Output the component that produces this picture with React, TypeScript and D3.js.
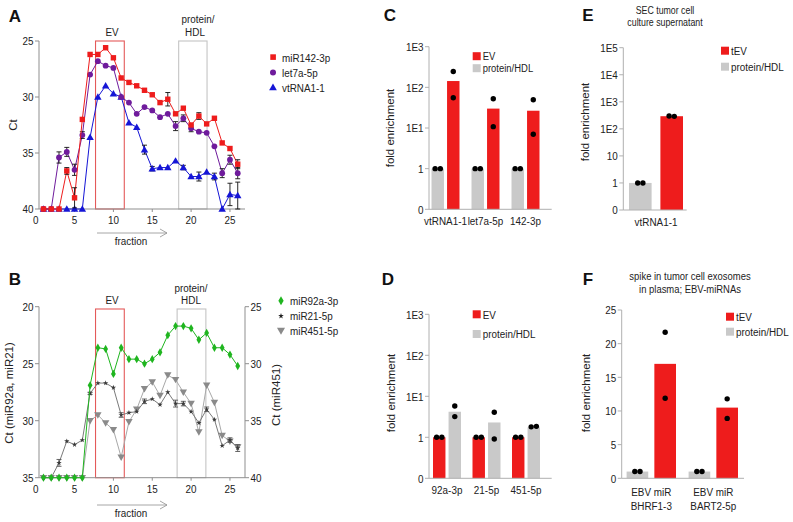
import React from "react";
import * as d3 from "d3";

// ---------- DATA ----------
const fractions = [1, 2, 3, 4, 5, 6, 7, 8, 9, 10, 11, 12, 13, 14, 15, 16, 17, 18, 19, 20, 21, 22, 23, 24, 25, 26];

// Panel A (Ct)
const miR142 = [40, 40, 40, 36.6, 39.0, 32.0, 26.2, 26.2, 25.6, 26.5, 28.3, 28.7, 29.0, 29.4, 29.8, 30.5, 30.2, 31.5, 31.0, 32.5, 31.7, 32.4, 31.9, 34.1, 34.6, 36.0];
const miR142Err = [0, 0, 0, 0.3, 0.9, 0, 0, 0, 0, 0, 0, 0, 0, 0, 0, 0, 0.6, 0, 0, 0, 0.3, 0, 0, 0, 0, 0.4];
const let7a = [40, 40, 35.4, 34.9, 36.5, 33.4, 28.0, 26.8, 27.2, 27.4, 30.0, 30.5, 31.5, 30.9, 31.2, 31.8, 31.5, 32.6, 31.9, 32.8, 33.1, 33.2, 34.4, 36.8, 35.6, 36.8];
const let7aErr = [0, 0, 0.5, 0.4, 0.5, 0.3, 0, 0, 0, 0, 0, 0, 0, 0, 0, 0, 0, 0.4, 0.3, 0.3, 0, 0, 0, 0.4, 0.4, 0.5];
const vtRNA = [40, 40, 40, 40, 40, 40, 33.6, 30.0, 29.0, 29.7, 30.0, 32.3, 32.7, 34.7, 36.4, 36.3, 36.3, 35.7, 36.3, 37.1, 37.1, 36.7, 37.1, 40.0, 38.7, 38.8];
const vtRNAErr = [0, 0, 0, 0, 0, 0, 0, 0, 0, 0, 0, 0, 0, 0.4, 0.2, 0, 0, 0, 0.2, 0, 0.4, 0, 0.3, 0, 1.0, 1.2];

// Panel B (Ct)
const miR92a = [35, 35, 35, 35, 35, 35, 26.9, 23.6, 23.7, 25.9, 23.6, 24.6, 24.6, 25.0, 24.6, 24.0, 22.5, 21.7, 21.7, 21.9, 22.9, 22.3, 23.6, 23.6, 24.2, 25.2];
const miR21 = [35, 35, 33.7, 31.8, 32.1, 31.7, 27.6, 26.7, 26.7, 27.1, 29.5, 29.3, 29.2, 28.3, 28.1, 28.6, 27.5, 28.5, 28.5, 29.2, 30.2, 29.0, 29.9, 32.2, 31.7, 32.4];
const miR21Err = [0, 0, 0.3, 0, 0, 0, 0.1, 0, 0, 0, 0.2, 0, 0, 0.2, 0, 0, 0, 0.3, 0.2, 0, 0, 0.2, 0, 0, 0.2, 0.3];
const miR451 = [40, 40, 40, 40, 40, 40, 35.0, 34.5, 35.2, 35.8, 38.2, 35.1, 34.0, 32.2, 31.6, 32.8, 31.0, 31.4, 32.5, 33.5, 36.0, 31.9, 33.4, 36.3, 36.8, 37.3];

// Panel C
const cGroups = ["vtRNA1-1", "let7a-5p", "142-3p"];
const cEV = [143, 30, 26.6];
const cHDL = [1, 1, 1];
const cEVDots = [[246, 55.6], [52.5, 10.8], [49.5, 7.0]];
const cHDLDots = [[1, 1], [1, 1], [1, 1]];

// Panel D
const dGroups = ["92a-3p", "21-5p", "451-5p"];
const dEV = [1, 1, 1];
const dHDL = [4.2, 2.3, 1.75];
const dEVDots = [[1, 1], [1, 1], [1, 1]];
const dHDLDots = [[5.8, 3.2], [4.1, 0.91], [1.8, 1.85]];

// Panel E
const eGroups = ["vtRNA1-1"];
const eTEV = [293];
const eHDL = [1];
const eTEVDots = [[300, 290]];
const eHDLDots = [[1, 1]];

// Panel F
const fGroups = [["EBV miR", "BHRF1-3"], ["EBV miR", "BART2-5p"]];
const fTEV = [17.0, 10.5];
const fHDL = [1, 1];
const fTEVDots = [[21.7, 11.9], [11.8, 8.9]];
const fHDLDots = [[1, 1], [1, 1]];

const logTicks = [0.1, 1, 10, 100, 1000];
const logTickLabels = ["0", "1", "1E1", "1E2", "1E3"];
const eTicks = [0.1, 1, 10, 100, 1000, 10000, 100000];
const eTickLabels = ["0", "1", "10", "1E2", "1E3", "1E4", "1E5"];
const fTicks = [0, 5, 10, 15, 20, 25];

// ---------- STYLE ----------
const FONT = "'Liberation Sans', Arial, Helvetica, sans-serif";
const AXC = "#8f8f8f";
const TXT = "#222";
const RED = "#ee1c1c";
const GRAYBAR = "#c9c9c9";
const PURPLE = "#6f1b9c";
const BLUE = "#1515d6";
const GREEN = "#1fb51f";

const symPath = (type: any, size: number) => d3.symbol().type(type).size(size)() as string;

// horizontally condensed text (the reference figure is compressed in x)
function T({
  x,
  y,
  children,
  anchor = "start",
  size = 11.5,
  sx = 0.86,
}: {
  x: number;
  y: number;
  children: React.ReactNode;
  anchor?: "start" | "middle" | "end";
  size?: number;
  sx?: number;
}) {
  return (
    <text
      transform={`translate(${x},${y}) scale(${sx},1)`}
      fontFamily={FONT}
      fontSize={size}
      fill={TXT}
      textAnchor={anchor}
      dominantBaseline="central"
    >
      {children}
    </text>
  );
}

function PanelLetter({ x, y, t }: { x: number; y: number; t: string }) {
  return (
    <text x={x} y={y} fontFamily={FONT} fontWeight={900} fontSize={17} fill="#111" dominantBaseline="central" textAnchor="middle">
      {t}
    </text>
  );
}

type Series = {
  vals: number[];
  err?: number[];
  color: string;
  lineColor: string;
  marker: string;
  y: d3.ScaleLinear<number, number>;
};

function LineSeries({ s, x }: { s: Series; x: d3.ScaleLinear<number, number> }) {
  const line = d3
    .line<number>()
    .x((_, i) => x(fractions[i]))
    .y((d) => s.y(d));
  const markers = s.vals.map((v, i) => {
    const cx = x(fractions[i]);
    const cy = s.y(v);
    let el: React.ReactNode;
    if (s.marker === "square") el = <rect x={cx - 2.7} y={cy - 2.7} width={5.4} height={5.4} fill={s.color} />;
    else if (s.marker === "circle") el = <circle cx={cx} cy={cy} r={2.9} fill={s.color} />;
    else if (s.marker === "triangle") el = <path d={symPath(d3.symbolTriangle, 24)} transform={`translate(${cx},${cy + 0.6})`} fill={s.color} />;
    else if (s.marker === "triangleDown") el = <path d={symPath(d3.symbolTriangle, 24)} transform={`translate(${cx},${cy - 0.6}) rotate(180)`} fill={s.color} />;
    else if (s.marker === "diamond") el = <path d={symPath(d3.symbolDiamond, 20)} transform={`translate(${cx},${cy})`} fill={s.color} />;
    else el = <path d={symPath(d3.symbolStar, 9)} transform={`translate(${cx},${cy})`} fill={s.color} />;
    return <g key={i}>{el}</g>;
  });
  const errs = (s.err || []).map((e, i) => {
    if (!e) return null;
    const cx = x(fractions[i]);
    const y1 = s.y(s.vals[i] - e);
    const y2 = s.y(s.vals[i] + e);
    const ec = s.marker === "star" ? "#555" : "#111";
    return (
      <g key={"e" + i} stroke={ec} strokeWidth={0.9}>
        <line x1={cx} x2={cx} y1={y1} y2={y2} />
        <line x1={cx - 2.5} x2={cx + 2.5} y1={y1} y2={y1} />
        <line x1={cx - 2.5} x2={cx + 2.5} y1={y2} y2={y2} />
      </g>
    );
  });
  return (
    <g>
      <path d={line(s.vals) as string} fill="none" stroke={s.lineColor} strokeWidth={1} />
      {errs}
      {markers}
    </g>
  );
}

function FractionArrow({ y, ty }: { y: number; ty: number }) {
  return (
    <g>
      <line x1={97} x2={167} y1={y} y2={y} stroke={AXC} strokeWidth={0.8} />
      <polyline points={`160,${y - 4} 167,${y} 160,${y + 4}`} fill="none" stroke={AXC} strokeWidth={0.8} />
      <T x={131} y={ty} anchor="middle">fraction</T>
    </g>
  );
}

function XFractionAxis({ x, y0, labelY }: { x: d3.ScaleLinear<number, number>; y0: number; labelY: number }) {
  const ticks = [0, 5, 10, 15, 20, 25];
  return (
    <g>
      <line x1={39} x2={245} y1={y0} y2={y0} stroke={AXC} strokeWidth={1} />
      {ticks.map((t) => (
        <g key={t}>
          {t > 0 && <line x1={x(t)} x2={x(t)} y1={y0} y2={y0 + 3} stroke={AXC} />}
          <T x={x(t)} y={labelY} anchor="middle">{t}</T>
        </g>
      ))}
    </g>
  );
}

function YAxisLin({ y, ticks, ax, side, y0, y1 }: { y: d3.ScaleLinear<number, number>; ticks: number[]; ax: number; side: "left" | "right"; y0: number; y1: number }) {
  const d = side === "left" ? -1 : 1;
  return (
    <g>
      <line x1={ax} x2={ax} y1={y0} y2={y1} stroke={AXC} strokeWidth={1} />
      {ticks.map((t) => (
        <g key={t}>
          <line x1={ax} x2={ax + d * 4} y1={y(t)} y2={y(t)} stroke={AXC} />
          <T x={ax + d * 5.5} y={y(t)} anchor={side === "left" ? "end" : "start"}>{t}</T>
        </g>
      ))}
    </g>
  );
}

function PanelA() {
  const x = d3.scaleLinear().domain([0, 27]).range([35.7, 245.5]);
  const y = d3.scaleLinear().domain([25, 40]).range([41, 209]);
  const series: Series[] = [
    { vals: vtRNA, err: vtRNAErr, color: BLUE, lineColor: BLUE, marker: "triangle", y },
    { vals: let7a, err: let7aErr, color: PURPLE, lineColor: PURPLE, marker: "circle", y },
    { vals: miR142, err: miR142Err, color: RED, lineColor: RED, marker: "square", y },
  ];
  return (
    <g>
      <PanelLetter x={15} y={16} t="A" />
      <rect x={x(7.7)} y={y(25)} width={x(11.4) - x(7.7)} height={y(40) - y(25)} fill="none" stroke="#e45a5a" strokeWidth={1.1} />
      <rect x={x(18.4)} y={y(25)} width={x(22.05) - x(18.4)} height={y(40) - y(25)} fill="none" stroke="#c4c4c4" strokeWidth={1.1} />
      <T x={112} y={32} anchor="middle">EV</T>
      <T x={198} y={19} anchor="middle">protein/</T>
      <T x={195} y={32} anchor="middle">HDL</T>
      <YAxisLin y={y} ticks={[25, 30, 35, 40]} ax={39} side="left" y0={y(25)} y1={y(40)} />
      <XFractionAxis x={x} y0={y(40)} labelY={220} />
      <text transform="translate(13,125) rotate(-90)" fontFamily={FONT} fontSize={11.5} fill={TXT} textAnchor="middle" dominantBaseline="central">Ct</text>
      {series.map((s, i) => (
        <LineSeries key={i} s={s} x={x} />
      ))}
      <FractionArrow y={233} ty={241} />
      {/* legend */}
      <rect x={270.3} y={54.3} width={5.6} height={5.6} fill={RED} />
      <T x={282} y={57.5}>miR142-3p</T>
      <circle cx={273} cy={72.5} r={3} fill={PURPLE} />
      <T x={282} y={72.5}>let7a-5p</T>
      <path d={symPath(d3.symbolTriangle, 26)} transform="translate(273,88)" fill={BLUE} />
      <T x={282} y={88}>vtRNA1-1</T>
    </g>
  );
}

function PanelB() {
  const x = d3.scaleLinear().domain([0, 27]).range([35.7, 245.5]);
  const yL = d3.scaleLinear().domain([20, 35]).range([306.7, 477.7]);
  const yR = d3.scaleLinear().domain([25, 40]).range([306.7, 477.7]);
  const series: Series[] = [
    { vals: miR451, color: "#8a8a8a", lineColor: "#a8a8a8", marker: "triangleDown", y: yR },
    { vals: miR21, err: miR21Err, color: "#3a3a3a", lineColor: "#7a7a7a", marker: "star", y: yL },
    { vals: miR92a, color: GREEN, lineColor: GREEN, marker: "diamond", y: yL },
  ];
  return (
    <g>
      <PanelLetter x={15} y={279} t="B" />
      <rect x={x(7.7)} y={309} width={x(11.4) - x(7.7)} height={477.7 - 309} fill="none" stroke="#e45a5a" strokeWidth={1.1} />
      <rect x={x(18.2)} y={309} width={x(21.9) - x(18.2)} height={477.7 - 309} fill="none" stroke="#c4c4c4" strokeWidth={1.1} />
      <T x={112} y={300} anchor="middle">EV</T>
      <T x={191} y={288} anchor="middle">protein/</T>
      <T x={191} y={299.5} anchor="middle">HDL</T>
      <YAxisLin y={yL} ticks={[20, 25, 30, 35]} ax={39} side="left" y0={306.7} y1={477.7} />
      <YAxisLin y={yR} ticks={[25, 30, 35, 40]} ax={245} side="right" y0={306.7} y1={477.7} />
      <XFractionAxis x={x} y0={477.7} labelY={488.5} />
      <text transform="translate(9,393) rotate(-90)" fontFamily={FONT} fontSize={11.5} fill={TXT} textAnchor="middle" dominantBaseline="central">Ct (miR92a, miR21)</text>
      <text transform="translate(276,395) rotate(-90)" fontFamily={FONT} fontSize={11.5} fill={TXT} textAnchor="middle" dominantBaseline="central">Ct (miR451)</text>
      {series.map((s, i) => (
        <LineSeries key={i} s={s} x={x} />
      ))}
      <FractionArrow y={505} ty={513} />
      <path d={symPath(d3.symbolDiamond, 24)} transform="translate(281,300.7)" fill={GREEN} />
      <T x={290} y={300.7}>miR92a-3p</T>
      <path d={symPath(d3.symbolStar, 10)} transform="translate(281,316)" fill="#222" />
      <T x={290} y={315.7}>miR21-5p</T>
      <path d={symPath(d3.symbolTriangle, 28)} transform="translate(281,330) rotate(180)" fill="#8a8a8a" />
      <T x={290} y={330.7}>miR451-5p</T>
    </g>
  );
}

type BarCfg = {
  y: any;
  tickVals: number[];
  tickLabels: string[];
  axisX: number;
  axisEnd: number;
  groups: (string | string[])[];
  groupRange: [number, number];
  inner: [number, number];
  innerPad: number;
  order: { vals: number[]; dots: number[][]; color: string }[];
  labelY: number;
};

function Bars({ c }: { c: BarCfg }) {
  const gx = d3.scaleBand<number>().domain(c.groups.map((_, i) => i)).range(c.groupRange);
  const ix = d3.scaleBand<number>().domain(c.order.map((_, i) => i)).range(c.inner).paddingInner(c.innerPad);
  const [d0, d1] = c.y.domain();
  const base = c.y(d0);
  const top = c.y(d1);
  return (
    <g>
      {c.groups.map((g, gi) => {
        const center = (gx(gi) as number) + gx.bandwidth() / 2;
        return (
          <g key={gi}>
            {c.order.map((s, si) => {
              const bx = center + (ix(si) as number);
              const bw = ix.bandwidth();
              const v = s.vals[gi];
              const ds = s.dots[gi];
              const close = Math.abs(Math.log(ds[0] / ds[1])) < 0.12;
              return (
                <g key={si}>
                  <rect x={bx} y={c.y(v)} width={bw} height={base - c.y(v)} fill={s.color} />
                  {ds.map((dv, di) => (
                    <circle key={di} cx={bx + bw / 2 + (close ? (di === 0 ? -2.6 : 2.6) : 0)} cy={c.y(dv)} r={2.7} fill="#000" />
                  ))}
                </g>
              );
            })}
            {(Array.isArray(g) ? g : [g]).map((line, li) => (
              <T key={li} x={center} y={c.labelY + li * 14.5} anchor="middle">{line}</T>
            ))}
          </g>
        );
      })}
      <line x1={c.axisX} x2={c.axisX} y1={top} y2={base} stroke="#b0b0b0" strokeWidth={1} />
      <line x1={c.axisX} x2={c.axisEnd} y1={base} y2={base} stroke="#b0b0b0" strokeWidth={1} />
      {c.tickVals.map((t, i) => (
        <g key={i}>
          <line x1={c.axisX - 4} x2={c.axisX} y1={c.y(t)} y2={c.y(t)} stroke="#b0b0b0" />
          <T x={c.axisX - 5.5} y={c.y(t)} anchor="end">{c.tickLabels[i]}</T>
        </g>
      ))}
    </g>
  );
}

function Legend({ x, y1, y2, first, second, c1, c2, size = 11.5 }: { x: number; y1: number; y2: number; first: string; second: string; c1: string; c2: string; size?: number }) {
  return (
    <g>
      <rect x={x - 4} y={y1 - 4} width={8} height={8} fill={c1} />
      <T x={x + 6} y={y1} size={size}>{first}</T>
      <rect x={x - 4} y={y2 - 4} width={8} height={8} fill={c2} />
      <T x={x + 6} y={y2} size={size}>{second}</T>
    </g>
  );
}

function YTitle({ x, y }: { x: number; y: number }) {
  return (
    <text transform={`translate(${x},${y}) rotate(-90)`} fontFamily={FONT} fontSize={11.5} fill={TXT} textAnchor="middle" dominantBaseline="central">
      fold enrichment
    </text>
  );
}

function PanelC() {
  const y = d3.scaleLog().domain([0.1, 1000]).range([209.3, 46.7]);
  return (
    <g>
      <PanelLetter x={390} y={15} t="C" />
      <YTitle x={390} y={128} />
      <Bars
        c={{
          y,
          tickVals: logTicks,
          tickLabels: logTickLabels,
          axisX: 429,
          axisEnd: 551.7,
          groups: cGroups,
          groupRange: [425.5, 545.5],
          inner: [-14, 14],
          innerPad: 0.2,
          order: [
            { vals: cHDL, dots: cHDLDots, color: GRAYBAR },
            { vals: cEV, dots: cEVDots, color: RED },
          ],
          labelY: 221,
        }}
      />
      <Legend x={476.7} y1={56.2} y2={68.2} first="EV" second="protein/HDL" c1={RED} c2={GRAYBAR} size={11} />
    </g>
  );
}

function PanelD() {
  const y = d3.scaleLog().domain([0.1, 1000]).range([478.3, 314.3]);
  return (
    <g>
      <PanelLetter x={388} y={279} t="D" />
      <YTitle x={391} y={393} />
      <Bars
        c={{
          y,
          tickVals: logTicks,
          tickLabels: logTickLabels,
          axisX: 429,
          axisEnd: 551.7,
          groups: dGroups,
          groupRange: [427.25, 545.75],
          inner: [-14, 14],
          innerPad: 0.2,
          order: [
            { vals: dEV, dots: dEVDots, color: RED },
            { vals: dHDL, dots: dHDLDots, color: GRAYBAR },
          ],
          labelY: 490,
        }}
      />
      <Legend x={476.7} y1={314.3} y2={334} first="EV" second="protein/HDL" c1={RED} c2={GRAYBAR} />
    </g>
  );
}

function PanelE() {
  const y = d3.scaleLog().domain([0.1, 100000]).range([210, 47.7]);
  return (
    <g>
      <PanelLetter x={588} y={15.5} t="E" />
      <T x={665} y={10} anchor="middle" size={11} sx={0.8}>SEC tumor cell</T>
      <T x={665} y={22} anchor="middle" size={11} sx={0.8}>culture supernatant</T>
      <YTitle x={585} y={122} />
      <Bars
        c={{
          y,
          tickVals: eTicks,
          tickLabels: eTickLabels,
          axisX: 623.3,
          axisEnd: 686.7,
          groups: eGroups,
          groupRange: [626, 686],
          inner: [-27, 27],
          innerPad: 0.28,
          order: [
            { vals: eHDL, dots: eHDLDots, color: GRAYBAR },
            { vals: eTEV, dots: eTEVDots, color: RED },
          ],
          labelY: 221.7,
        }}
      />
      <Legend x={725} y1={50.7} y2={66.7} first="tEV" second="protein/HDL" c1={RED} c2={GRAYBAR} />
    </g>
  );
}

function PanelF() {
  const y = d3.scaleLinear().domain([0, 25]).range([478.3, 310]);
  return (
    <g>
      <PanelLetter x={588} y={279} t="F" />
      <T x={690} y={276.7} anchor="middle" size={11} sx={0.86}>spike in tumor cell exosomes</T>
      <T x={690} y={289.5} anchor="middle" size={11} sx={0.86}>in plasma; EBV-miRNAs</T>
      <YTitle x={586} y={393} />
      <Bars
        c={{
          y,
          tickVals: fTicks,
          tickLabels: fTicks.map(String),
          axisX: 621.7,
          axisEnd: 744,
          groups: fGroups,
          groupRange: [620.3, 744.3],
          inner: [-24.7, 24.7],
          innerPad: 0.22,
          order: [
            { vals: fHDL, dots: fHDLDots, color: GRAYBAR },
            { vals: fTEV, dots: fTEVDots, color: RED },
          ],
          labelY: 491.7,
        }}
      />
      <Legend x={730} y1={316.7} y2={331.7} first="tEV" second="protein/HDL" c1={RED} c2={GRAYBAR} />
    </g>
  );
}

export default function App() {
  return (
    <svg width={793} height={522} viewBox="0 0 793 522" style={{ position: "absolute", left: 0, top: 0, background: "#fff" }}>
      <rect x={0} y={0} width={793} height={522} fill="#fff" />
      <PanelA />
      <PanelB />
      <PanelC />
      <PanelD />
      <PanelE />
      <PanelF />
    </svg>
  );
}
